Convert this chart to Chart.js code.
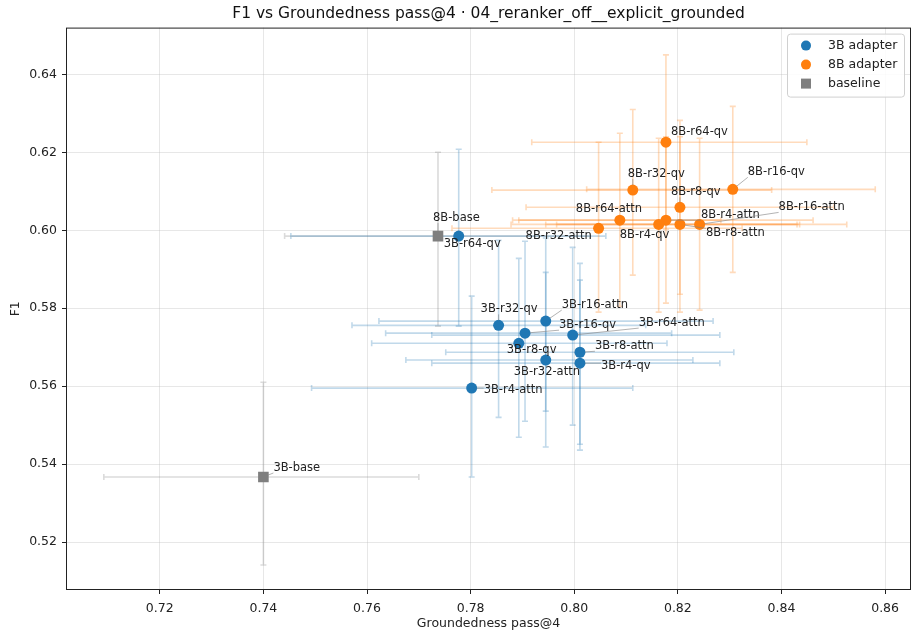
<!DOCTYPE html>
<html>
<head>
<meta charset="utf-8">
<script src="https://cdn.jsdelivr.net/npm/chart.js@4.4.1/dist/chart.umd.min.js"></script>
<style>
  html, body { margin: 0; padding: 0; background: #fff; }
</style>
</head>
<body>
<canvas id="chart" width="913" height="637"></canvas>
<script>
// ── DATA ─────────────────────────────────────────────────────────────────────

const xTicks = [0.72, 0.74, 0.76, 0.78, 0.80, 0.82, 0.84, 0.86]
const yTicks = [0.52, 0.54, 0.56, 0.58, 0.60, 0.62, 0.64]

// 3B adapter
const names3B = ['3B-r64-qv','3B-r32-qv','3B-r16-attn','3B-r16-qv','3B-r64-attn','3B-r8-qv','3B-r8-attn','3B-r32-attn','3B-r4-qv','3B-r4-attn']
const gx3B    = [0.7777, 0.7854, 0.7945, 0.7905, 0.7997, 0.7893, 0.8011, 0.7945, 0.8011, 0.7802]
const f13B    = [0.5985, 0.5756, 0.5767, 0.5736, 0.5731, 0.5710, 0.5687, 0.5667, 0.5659, 0.5595]
const gxLo3B  = [0.7453, 0.7571, 0.7623, 0.7636, 0.7725, 0.7609, 0.7752, 0.7675, 0.7725, 0.7493]
const gxHi3B  = [0.8061, 0.8138, 0.8268, 0.8188, 0.8281, 0.8179, 0.8308, 0.8229, 0.8281, 0.8113]
const f1Lo3B  = [0.5754, 0.5520, 0.5536, 0.5510, 0.5500, 0.5469, 0.5451, 0.5444, 0.5436, 0.5367]
const f1Hi3B  = [0.6208, 0.5974, 0.5980, 0.5972, 0.5956, 0.5928, 0.5915, 0.5892, 0.5872, 0.5831]

// 8B adapter
const names8B = ['8B-r64-qv','8B-r32-qv','8B-r16-qv','8B-r8-qv','8B-r64-attn','8B-r4-attn','8B-r4-qv','8B-r32-attn','8B-r8-attn','8B-r16-attn']
const gx8B    = [0.8177, 0.8113, 0.8306, 0.8204, 0.8088, 0.8177, 0.8163, 0.8047, 0.8204, 0.8242]
const f18B    = [0.6226, 0.6103, 0.6105, 0.6059, 0.6026, 0.6026, 0.6015, 0.6005, 0.6015, 0.6015]
const gxLo8B  = [0.7918, 0.7841, 0.8024, 0.7907, 0.7893, 0.7881, 0.7878, 0.7764, 0.7966, 0.7945]
const gxHi8B  = [0.8449, 0.8381, 0.8581, 0.8501, 0.8283, 0.8461, 0.8430, 0.8324, 0.8435, 0.8526]
const f1Lo8B  = [0.6002, 0.5885, 0.5892, 0.5836, 0.5805, 0.5813, 0.5790, 0.5790, 0.5790, 0.5795]
const f1Hi8B  = [0.6450, 0.6310, 0.6318, 0.6282, 0.6249, 0.6240, 0.6236, 0.6226, 0.6240, 0.6236]

// baselines
const namesBase = ['3B-base', '8B-base']
const gxBase    = [0.7400, 0.7737]
const f1Base    = [0.5367, 0.5985]
const gxLoBase  = [0.7092, 0.7441]
const gxHiBase  = [0.7700, 0.8030]
const f1LoBase  = [0.5141, 0.5754]
const f1HiBase  = [0.5610, 0.6200]

// ── LABEL PLACEMENT (px offsets from point to text left / middle) ───────────

const offs3B   = [[-15, 8], [-18, -16], [16, -16], [34, -8], [66, -12], [-12, 7], [15, -6], [-32, 12], [21, 3], [12, 2]]
const offs8B   = [[5, -10], [-5, -16], [15, -17], [-9, -15], [-44, -11], [35, -5], [-39, 11], [-73, 8], [26, 9], [79, -17]]
const offsBase = [[10, -9], [-5, -18]]

const FONT = '"DejaVu Sans", "Liberation Sans", sans-serif'

function pts(xs, ys) { return xs.map((x, i) => ({ x, y: ys[i] })) }

function mkSet(label, names, xs, ys, xlo, xhi, ylo, yhi, offs, color, errColor, style, radius) {
  return {
    label,
    data: pts(xs, ys),
    backgroundColor: color,
    borderWidth: 0,
    pointStyle: style,
    pointRadius: radius,
    pointLabels: names,
    labelOffsets: offs,
    errX: xlo.map((l, i) => [l, xhi[i]]),
    errY: ylo.map((l, i) => [l, yhi[i]]),
    errColor
  }
}

// ── PLUGINS ──────────────────────────────────────────────────────────────────

// barras de erro (x e y) desenhadas pelas escalas, por baixo dos marcadores
const errorBars = {
  id: 'errorBars',
  beforeDatasetsDraw(chart) {
    const { ctx, scales: { x, y } } = chart
    const cap = 3
    ctx.save()
    ctx.lineWidth = 1.6
    // ordem: baseline, 3B, 8B (como no original)
    ;[2, 0, 1].forEach(di => {
      const ds = chart.data.datasets[di]
      ctx.strokeStyle = ds.errColor
      ds.data.forEach((p, i) => {
        const px = x.getPixelForValue(p.x), py = y.getPixelForValue(p.y)
        const x0 = x.getPixelForValue(ds.errX[i][0]), x1 = x.getPixelForValue(ds.errX[i][1])
        const y0 = y.getPixelForValue(ds.errY[i][0]), y1 = y.getPixelForValue(ds.errY[i][1])
        ctx.beginPath()
        ctx.moveTo(x0, py); ctx.lineTo(x1, py)
        ctx.moveTo(px, y0); ctx.lineTo(px, y1)
        ctx.moveTo(x0, py - cap); ctx.lineTo(x0, py + cap)
        ctx.moveTo(x1, py - cap); ctx.lineTo(x1, py + cap)
        ctx.moveTo(px - cap, y0); ctx.lineTo(px + cap, y0)
        ctx.moveTo(px - cap, y1); ctx.lineTo(px + cap, y1)
        ctx.stroke()
      })
    })
    ctx.restore()
  }
}

// rótulos de cada ponto, com linha-guia quando o texto fica longe
const pointLabels = {
  id: 'pointLabels',
  afterDatasetsDraw(chart) {
    const { ctx } = chart
    ctx.save()
    ctx.font = '11.5px ' + FONT
    ctx.textBaseline = 'middle'
    ctx.textAlign = 'left'
    chart.data.datasets.forEach((ds, di) => {
      const meta = chart.getDatasetMeta(di)
      ds.pointLabels.forEach((txt, i) => {
        const p = meta.data[i]
        const [dx, dy] = ds.labelOffsets[i]
        const tx = p.x + dx, ty = p.y + dy
        const w = ctx.measureText(txt).width, h = 10
        const nx = Math.max(tx, Math.min(p.x, tx + w))
        const ny = Math.max(ty - h / 2, Math.min(p.y, ty + h / 2))
        const d = Math.hypot(nx - p.x, ny - p.y)
        if (d > 9) {
          const ux = (nx - p.x) / d, uy = (ny - p.y) / d
          ctx.strokeStyle = 'rgba(128,128,128,0.75)'
          ctx.lineWidth = 0.8
          ctx.beginPath()
          ctx.moveTo(p.x + ux * 5, p.y + uy * 5)
          ctx.lineTo(nx, ny)
          ctx.stroke()
        }
        ctx.fillStyle = '#222'
        ctx.fillText(txt, tx, ty)
      })
    })
    ctx.restore()
  }
}

// moldura completa + legenda no canto superior direito
const frameLegend = {
  id: 'frameLegend',
  afterDraw(chart) {
    const { ctx, chartArea: { left, top, right, bottom } } = chart
    ctx.save()
    ctx.strokeStyle = '#222'
    ctx.lineWidth = 1
    ctx.strokeRect(left + 0.5, top + 0.5, right - left - 1, bottom - top - 1)

    const bx = right - 124, by = top + 6, bw = 117, bh = 63
    ctx.fillStyle = 'rgba(255,255,255,0.85)'
    ctx.strokeStyle = '#d0d0d0'
    ctx.beginPath()
    ctx.roundRect(bx + 0.5, by + 0.5, bw, bh, 3)
    ctx.fill(); ctx.stroke()

    ctx.font = '12.5px ' + FONT
    ctx.textBaseline = 'middle'
    chart.data.datasets.forEach((ds, i) => {
      const cy = by + 12 + i * 19, cx = bx + 19
      ctx.fillStyle = ds.backgroundColor
      ctx.beginPath()
      if (ds.pointStyle === 'rect') ctx.rect(cx - 5, cy - 5, 10, 10)
      else ctx.arc(cx, cy, 5, 0, Math.PI * 2)
      ctx.fill()
      ctx.fillStyle = '#222'
      ctx.fillText(ds.label, bx + 41, cy)
    })
    ctx.restore()
  }
}

// ── CHART ────────────────────────────────────────────────────────────────────

const datasets = [
  mkSet('3B adapter', names3B, gx3B, f13B, gxLo3B, gxHi3B, f1Lo3B, f1Hi3B, offs3B, '#1f77b4', 'rgba(31,119,180,0.28)', 'circle', 5.5),
  mkSet('8B adapter', names8B, gx8B, f18B, gxLo8B, gxHi8B, f1Lo8B, f1Hi8B, offs8B, '#ff7f0e', 'rgba(255,127,14,0.28)', 'circle', 5.5),
  mkSet('baseline', namesBase, gxBase, f1Base, gxLoBase, gxHiBase, f1LoBase, f1HiBase, offsBase, '#7f7f7f', 'rgba(127,127,127,0.28)', 'rect', 7.5)
]

const gridColor = 'rgba(176,176,176,0.3)'

new Chart(document.getElementById('chart'), {
  type: 'scatter',
  data: { datasets },
  plugins: [errorBars, pointLabels, frameLegend],
  options: {
    responsive: false,
    animation: false,
    events: [],
    layout: { autoPadding: false, padding: { top: 0, right: 2, bottom: 0, left: 0 } },
    plugins: {
      legend: { display: false },
      tooltip: { enabled: false },
      title: {
        display: true,
        fullSize: false,
        text: 'F1 vs Groundedness pass@4 · 04_reranker_off__explicit_grounded',
        color: '#111',
        font: { family: FONT, size: 15.5, weight: 'normal' },
        padding: { top: 5, bottom: 4 }
      }
    },
    scales: {
      x: {
        type: 'linear',
        min: 0.7019, max: 0.865,
        afterBuildTicks: s => { s.ticks = xTicks.map(v => ({ value: v })) },
        afterFit: s => { s.height = 47; s.paddingLeft = 0; s.paddingRight = 0 },
        border: { display: false },
        grid: { color: gridColor, tickColor: '#222', tickLength: 4 },
        ticks: { color: '#222', padding: 7, font: { family: FONT, size: 12.5 }, callback: v => v.toFixed(2) },
        title: { display: true, text: 'Groundedness pass@4', color: '#222', font: { family: FONT, size: 12.5 }, padding: { top: 6, bottom: 6 } }
      },
      y: {
        type: 'linear',
        min: 0.5077, max: 0.652,
        afterBuildTicks: s => { s.ticks = yTicks.map(v => ({ value: v })) },
        afterFit: s => { s.width = 66; s.paddingTop = 0; s.paddingBottom = 0 },
        border: { display: false },
        grid: { color: gridColor, tickColor: '#222', tickLength: 4 },
        ticks: { color: '#222', padding: 5, font: { family: FONT, size: 12.5 }, callback: v => v.toFixed(2) },
        title: { display: true, text: 'F1', color: '#222', font: { family: FONT, size: 12.5 }, padding: { top: 8, bottom: 8 } }
      }
    }
  }
})
</script>
</body>
</html>
